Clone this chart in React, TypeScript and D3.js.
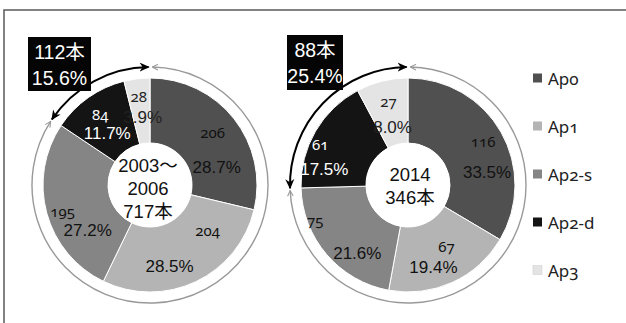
import React from 'react';
import * as d3 from 'd3';

// ---------- data ----------
const categories = ['Ap0', 'Ap1', 'Ap2-s', 'Ap2-d', 'Ap3'];
const values2003 = [206, 204, 195, 84, 28];
const values2014 = [116, 67, 75, 61, 27];
const pct2003 = ['28.7%', '28.5%', '27.2%', '11.7%', '3.9%'];
const pct2014 = ['33.5%', '19.4%', '21.6%', '17.5%', '8.0%'];
const center2003 = ['2003～', '2006', '717本'];
const center2014 = ['2014', '346本'];
const callout2003 = ['112本', '15.6%'];
const callout2014 = ['88本', '25.4%'];

// ---------- style / layout ----------
const colors = ['#505050', '#b4b4b4', '#858585', '#141414', '#e4e4e4'];
const labelColors = ['#111', '#111', '#111', '#fff', '#222'];
const R = 107;
const HOLE = 42;
const RING = 118;
const LABEL_R = 76;
// nudges of the value labels from the arc centroid
const numOff2003 = [[3, -6], [25, -24], [-14, 6], [-6, -9], [-2, -14]];
const pctOff2003 = [[7, 30], [-13, 13], [11, 26], [1, 11], [2, 8]];
const numOff2014 = [[9, -6], [7, -8], [-35, -14], [-22, -3], [-1, -10]];
const pctOff2014 = [[13, 25], [-6, 13], [7, 19], [-18, 23], [3, 16]];

const SANS = '"Liberation Sans", "Noto Sans CJK JP", sans-serif';
const OLD = '"Noto Sans", "Open Sans", sans-serif';

type PieProps = {
  cx: number;
  cy: number;
  values: number[];
  pcts: string[];
  numOff: number[][];
  pctOff: number[][];
  center: string[];
  centerY0: number;
  centerDx: number;
  callout: string[];
  box: { x: number; y: number; w: number; h: number };
};

function DonutPie(p: PieProps) {
  const pie = d3.pie<number>().sort(null).value((d) => d);
  const arcs = pie(p.values);
  const arc = d3.arc<d3.PieArcDatum<number>>().innerRadius(HOLE).outerRadius(R);
  const total = d3.sum(p.values);
  const theta = (2 * Math.PI * (p.values[3] + p.values[4])) / total;

  const blk = d3.path();
  blk.arc(p.cx, p.cy, RING, -Math.PI / 2 - theta, -Math.PI / 2 - 0.012, false);
  const gry = d3.path();
  gry.arc(p.cx, p.cy, RING, -Math.PI / 2 + 0.02, (3 * Math.PI) / 2 - theta - 0.02, false);

  return (
    <g>
      <path d={gry.toString()} fill="none" stroke="#999" strokeWidth={1.4}
        markerStart="url(#ahG)" markerEnd="url(#ahG)" />
      <g transform={`translate(${p.cx},${p.cy})`}>
        {arcs.map((a, i) => (
          <path key={i} d={arc(a) || ''} fill={colors[i]} stroke="#fff" strokeWidth={1} />
        ))}
        <circle r={HOLE} fill="#fff" />
        {arcs.map((a, i) => {
          const mid = (a.startAngle + a.endAngle) / 2;
          const x = LABEL_R * Math.sin(mid);
          const y = -LABEL_R * Math.cos(mid);
          return (
            <g key={'l' + i} fill={labelColors[i]}>
              <text x={x + p.numOff[i][0]} y={y + p.numOff[i][1]} textAnchor="middle"
                dominantBaseline="central" fontFamily={OLD} fontSize={15}
                style={{ fontVariantNumeric: 'oldstyle-nums' }}>
                {p.values[i]}
              </text>
              <text x={x + p.pctOff[i][0]} y={y + p.pctOff[i][1]} textAnchor="middle"
                dominantBaseline="central" fontFamily={SANS} fontSize={17}>
                {p.pcts[i]}
              </text>
            </g>
          );
        })}
        {p.center.map((t, i) => (
          <text key={'c' + i} x={p.centerDx} y={p.centerY0 + i * 23} textAnchor="middle"
            dominantBaseline="central" fontFamily={SANS} fontSize={18.5} fill="#111">
            {t}
          </text>
        ))}
      </g>
      <path d={blk.toString()} fill="none" stroke="#000" strokeWidth={2}
        markerStart="url(#ahB)" markerEnd="url(#ahB)" />
      <rect x={p.box.x} y={p.box.y} width={p.box.w} height={p.box.h} fill="#050505" />
      {p.callout.map((t, i) => (
        <text key={'b' + i} x={p.box.x + p.box.w / 2} y={p.box.y + 15 + i * 26}
          textAnchor="middle" dominantBaseline="central" fontFamily={SANS} fontSize={19.5} fill="#fff">
          {t}
        </text>
      ))}
    </g>
  );
}

export default function App() {
  const legendY = d3.scalePoint<string>().domain(categories).range([78, 270]);
  return (
    <svg width={626} height={323} style={{ position: 'absolute', left: 0, top: 0, background: '#fff' }}>
      <defs>
        <marker id="ahB" viewBox="0 0 10 10" refX={9} refY={5} markerWidth={10} markerHeight={10}
          markerUnits="userSpaceOnUse" orient="auto-start-reverse">
          <path d="M0,0.5 L10,5 L0,9.5 L3,5 Z" fill="#000" />
        </marker>
        <marker id="ahG" viewBox="0 0 10 10" refX={9} refY={5} markerWidth={7} markerHeight={7}
          markerUnits="userSpaceOnUse" orient="auto-start-reverse">
          <path d="M1,1 L9,5 L1,9" fill="none" stroke="#999" strokeWidth={1.5} />
        </marker>
      </defs>
      <rect x={4} y={10} width={640} height={330} fill="none" stroke="#5a5a5a" strokeWidth={1.5} />
      <DonutPie cx={150} cy={185} values={values2003} pcts={pct2003}
        numOff={numOff2003} pctOff={pctOff2003} center={center2003} centerY0={-20} centerDx={-2}
        callout={callout2003} box={{ x: 28, y: 37, w: 63, h: 54 }} />
      <DonutPie cx={408} cy={185} values={values2014} pcts={pct2014}
        numOff={numOff2014} pctOff={pctOff2014} center={center2014} centerY0={-11} centerDx={2}
        callout={callout2014} box={{ x: 287, y: 35, w: 56, h: 55 }} />
      {categories.map((c, i) => (
        <g key={c}>
          <rect x={533} y={(legendY(c) as number) - 4.5} width={9} height={9} fill={colors[i]}
            stroke={i === 4 ? '#ccc' : 'none'} strokeWidth={0.5} />
          <text x={548} y={legendY(c)} dominantBaseline="central" fontFamily={OLD} fontSize={17}
            fill="#222" style={{ fontVariantNumeric: 'oldstyle-nums' }}>
            {c}
          </text>
        </g>
      ))}
    </svg>
  );
}
